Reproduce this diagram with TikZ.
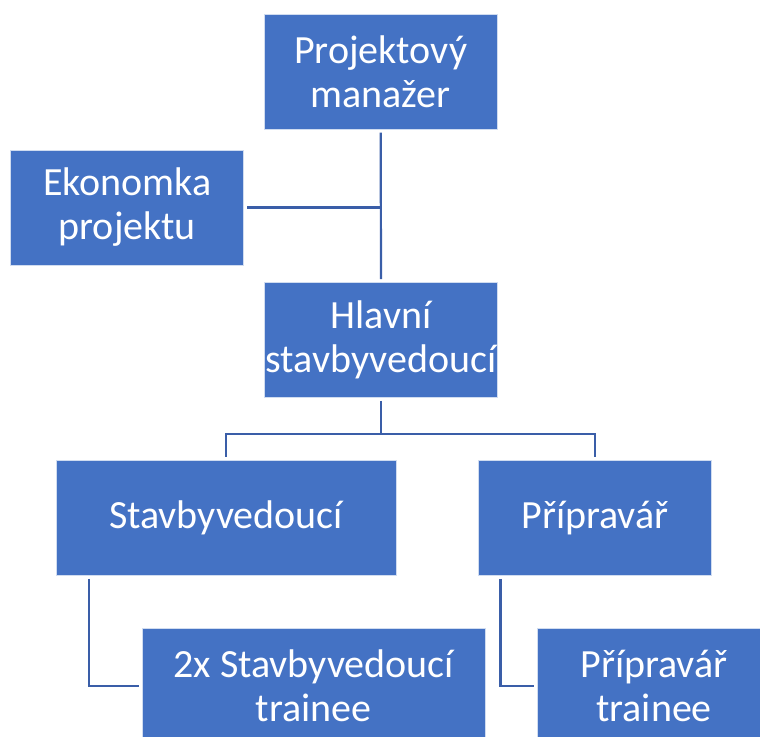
\documentclass[tikz,border=0pt]{standalone}
\usepackage{fontspec}
\setmainfont{Carlito}
\definecolor{boxblue}{RGB}{68,114,196}
\definecolor{lineblue}{RGB}{58,94,168}
\tikzset{
  orgbox/.style={draw=white!75!boxblue, line width=0.8pt, fill=boxblue, text=white, align=center,
    font=\fontsize{40}{44}\selectfont, inner sep=0pt, minimum height=115pt},
  link/.style={draw=lineblue, line width=2.2pt}
}
\begin{document}
\begin{tikzpicture}[x=1pt,y=-1pt]
\clip (0,0) rectangle (760,736);
\fill[white] (0,0) rectangle (760,736);
\node[orgbox, minimum width=233pt] (pm) at (380.7,71.7) {Projektový\\manažer};
\node[orgbox, minimum width=233pt] (ek) at (127.3,207.5) {Ekonomka\\projektu};
\node[orgbox, minimum width=233pt] (hs) at (381,340) {Hlavní\\stavbyvedoucí};
\node[orgbox, minimum width=340pt] (sv) at (226,518) {Stavbyvedoucí};
\node[orgbox, minimum width=233pt] (pr) at (595,518) {Přípravář};
\node[orgbox, minimum width=343pt] (svt) at (313.7,686) {2x Stavbyvedoucí\\trainee};
\node[orgbox, minimum width=233pt] (prt) at (654,686) {Přípravář\\trainee};
\coordinate (ekj) at (pm.south |- ek.east);
\coordinate (hsj) at (381,434);
\draw[link, shorten <=3pt, shorten >=3pt] (pm.south) -- (hs.north);
\draw[link, shorten <=3pt] (ek.east) -- (ekj);
\draw[link, shorten <=3pt, shorten >=3pt] (hs.south) -- (hsj) -| (sv.north);
\draw[link, shorten >=3pt] (hsj) -| (pr.north);
\draw[link, shorten <=3pt, shorten >=3pt] ([xshift=-137pt]sv.south) |- (svt.west);
\draw[link, shorten <=3pt, shorten >=3pt] ([xshift=-94.5pt]pr.south) |- (prt.west);
\end{tikzpicture}
\end{document}
